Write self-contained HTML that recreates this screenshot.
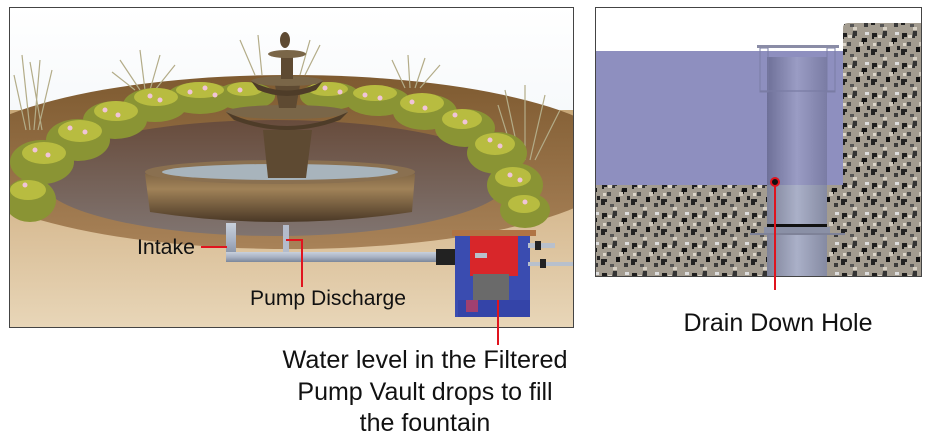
<!DOCTYPE html>
<html><head><meta charset="utf-8"><style>
html,body{margin:0;padding:0;background:#fff;width:930px;height:438px;overflow:hidden}
svg{display:block}
text{font-family:"Liberation Sans",Arial,sans-serif;fill:#111}
</style></head><body>
<svg width="930" height="438" viewBox="0 0 930 438" xmlns="http://www.w3.org/2000/svg">
<defs>
<linearGradient id="sky" x1="0" y1="0" x2="0" y2="1"><stop offset="0" stop-color="#ffffff"/><stop offset="1" stop-color="#e4ecf2"/></linearGradient>
<linearGradient id="gnd" x1="0" y1="0" x2="0" y2="1"><stop offset="0" stop-color="#c8a878"/><stop offset="0.5" stop-color="#d8bc94"/><stop offset="1" stop-color="#e8d6b8"/></linearGradient>
<linearGradient id="dirt" x1="0" y1="0" x2="0" y2="1"><stop offset="0" stop-color="#7e5a30"/><stop offset="1" stop-color="#a88258"/></linearGradient>
<linearGradient id="pond" x1="0" y1="0" x2="0" y2="1"><stop offset="0" stop-color="#684c3c"/><stop offset="1" stop-color="#807470"/></linearGradient>
<linearGradient id="stone" x1="0" y1="0" x2="0" y2="1"><stop offset="0" stop-color="#6a5238"/><stop offset="0.45" stop-color="#a08258"/><stop offset="1" stop-color="#4a3826"/></linearGradient>
<linearGradient id="pipeH" x1="0" y1="0" x2="0" y2="1"><stop offset="0" stop-color="#c8d0dc"/><stop offset="0.5" stop-color="#a8b2c4"/><stop offset="1" stop-color="#7c879a"/></linearGradient>
<linearGradient id="tube" x1="0" y1="0" x2="1" y2="0"><stop offset="0" stop-color="#6e7098"/><stop offset="0.5" stop-color="#9a9cc4"/><stop offset="1" stop-color="#7a7ca4"/></linearGradient>
<linearGradient id="tube2" x1="0" y1="0" x2="1" y2="0"><stop offset="0" stop-color="#7e8298"/><stop offset="0.5" stop-color="#aab0c8"/><stop offset="1" stop-color="#858aa2"/></linearGradient>
<pattern id="gran" width="30" height="30" patternUnits="userSpaceOnUse">
<rect width="30" height="30" fill="#a39c90"/>
<path d="M2 3h5v4h-3v2h-2z" fill="#1e1e1e"/><path d="M13 1h4v5h-2v2h-3z" fill="#333"/>
<path d="M22 8h5v4h-3v2h-3z" fill="#151515"/><rect x="7" y="12" width="4" height="4" fill="#4a4a4a"/>
<path d="M1 19h6v3h-2v3h-4z" fill="#222"/><rect x="16" y="17" width="4" height="5" fill="#111"/>
<rect x="24" y="23" width="4" height="4" fill="#3a3a3a"/><rect x="10" y="24" width="4" height="3" fill="#555"/>
<rect x="8" y="5" width="4" height="3" fill="#d8d2c6"/><rect x="19" y="12" width="4" height="4" fill="#cfc8bc"/>
<rect x="3" y="13" width="3" height="3" fill="#ddd6ca"/><rect x="25" y="2" width="4" height="3" fill="#ddd"/>
<rect x="13" y="27" width="4" height="3" fill="#d6d0c4"/><rect x="27" y="16" width="3" height="4" fill="#262626"/>
</pattern>
</defs>

<!-- LEFT PANEL -->
<rect x="9.5" y="7.5" width="564" height="320" fill="url(#sky)"/>
<clipPath id="lc"><rect x="10" y="8" width="563" height="319"/></clipPath>
<g clip-path="url(#lc)">
<rect x="10" y="110" width="563" height="217" fill="url(#gnd)"/>
<ellipse cx="290" cy="162" rx="335" ry="87" fill="url(#dirt)"/>
<ellipse cx="275" cy="178" rx="235" ry="58" fill="url(#pond)"/>
<!-- grasses -->
<g stroke="#b3ac88" stroke-width="1.2" fill="none">
<path d="M30 130 L22 55 M34 130 L40 60 M38 130 L52 70 M26 130 L14 75 M42 130 L30 62"/>
<path d="M140 90 L120 60 M145 90 L140 50 M150 90 L160 55 M155 90 L175 65 M135 90 L112 72"/>
<path d="M255 75 L240 40 M262 75 L258 35 M300 75 L310 40 M305 75 L320 45"/>
<path d="M405 88 L392 60 M410 88 L408 55 M415 88 L425 58 M420 88 L440 65"/>
<path d="M520 160 L505 90 M525 160 L525 85 M530 160 L545 95 M535 160 L560 110 M515 160 L498 105"/>
</g>
<!-- shrubs -->
<g fill="#8a9434">
<ellipse cx="30" cy="200" rx="26" ry="22"/><ellipse cx="42" cy="162" rx="32" ry="22"/>
<ellipse cx="78" cy="140" rx="32" ry="21"/><ellipse cx="115" cy="120" rx="32" ry="19"/>
<ellipse cx="155" cy="105" rx="32" ry="17"/><ellipse cx="200" cy="98" rx="34" ry="16"/>
<ellipse cx="245" cy="96" rx="30" ry="14"/><ellipse cx="330" cy="96" rx="30" ry="14"/>
<ellipse cx="378" cy="101" rx="32" ry="15"/><ellipse cx="425" cy="112" rx="32" ry="18"/>
<ellipse cx="465" cy="128" rx="30" ry="19"/><ellipse cx="497" cy="153" rx="30" ry="21"/>
<ellipse cx="515" cy="185" rx="28" ry="22"/><ellipse cx="525" cy="210" rx="25" ry="18"/>
</g>
<g fill="#b8bc40">
<ellipse cx="28" cy="190" rx="18" ry="10"/><ellipse cx="44" cy="153" rx="22" ry="11"/>
<ellipse cx="80" cy="131" rx="22" ry="11"/><ellipse cx="116" cy="111" rx="22" ry="10"/>
<ellipse cx="156" cy="97" rx="22" ry="9"/><ellipse cx="200" cy="90" rx="24" ry="8"/>
<ellipse cx="245" cy="89" rx="18" ry="7"/><ellipse cx="328" cy="89" rx="20" ry="7"/>
<ellipse cx="375" cy="93" rx="22" ry="8"/><ellipse cx="422" cy="103" rx="22" ry="10"/>
<ellipse cx="462" cy="119" rx="20" ry="10"/><ellipse cx="495" cy="144" rx="20" ry="11"/>
<ellipse cx="513" cy="177" rx="18" ry="10"/><ellipse cx="524" cy="204" rx="16" ry="9"/>
</g>
<g fill="#f0c4d8">
<circle cx="25" cy="185" r="2.5"/><circle cx="35" cy="150" r="2.5"/><circle cx="48" cy="155" r="2.5"/>
<circle cx="70" cy="128" r="2.5"/><circle cx="85" cy="132" r="2.5"/><circle cx="105" cy="110" r="2.5"/>
<circle cx="118" cy="115" r="2.5"/><circle cx="150" cy="96" r="2.5"/><circle cx="160" cy="100" r="2.5"/>
<circle cx="190" cy="92" r="2.5"/><circle cx="205" cy="88" r="2.5"/><circle cx="215" cy="95" r="2.5"/>
<circle cx="240" cy="90" r="2.5"/><circle cx="325" cy="88" r="2.5"/><circle cx="340" cy="92" r="2.5"/>
<circle cx="365" cy="95" r="2.5"/><circle cx="380" cy="98" r="2.5"/><circle cx="412" cy="102" r="2.5"/>
<circle cx="425" cy="108" r="2.5"/><circle cx="455" cy="115" r="2.5"/><circle cx="465" cy="122" r="2.5"/>
<circle cx="490" cy="140" r="2.5"/><circle cx="500" cy="146" r="2.5"/><circle cx="510" cy="175" r="2.5"/>
<circle cx="520" cy="180" r="2.5"/><circle cx="525" cy="202" r="2.5"/>
</g>
<!-- fountain -->
<g>
<path d="M145 174 Q280 150 415 174 L412 212 Q280 232 150 212 Z" fill="url(#stone)"/>
<ellipse cx="280" cy="172" rx="135" ry="12" fill="#8a7050"/>
<ellipse cx="280" cy="172" rx="118" ry="8" fill="#a8b4bc"/>
<path d="M263 130 L312 130 L306 178 L268 178 Z" fill="#5e4a32"/>
<ellipse cx="287" cy="112" rx="61" ry="7" fill="#7a6648"/>
<path d="M226 112 Q287 140 348 112 L340 120 Q287 140 234 120 Z" fill="#4e3c28"/>
<path d="M275 85 L300 85 L296 108 L279 108 Z" fill="#5e4a32"/>
<ellipse cx="287" cy="81" rx="36" ry="5" fill="#7a6648"/>
<path d="M251 81 Q287 100 323 81 L316 90 Q287 102 258 90 Z" fill="#4e3c28"/>
<rect x="281" y="55" width="12" height="24" fill="#5e4a32"/>
<ellipse cx="287" cy="54" rx="19" ry="4" fill="#7a6648"/>
<ellipse cx="285" cy="40" rx="5" ry="8" fill="#5e4a32"/>
</g>
<!-- pipes -->
<rect x="226" y="223" width="10" height="36" fill="url(#pipeH)"/>
<rect x="283" y="225" width="6" height="30" fill="#b4bccb"/>
<rect x="226" y="252" width="218" height="10" fill="url(#pipeH)"/>
<rect x="436" y="249" width="20" height="16" fill="#222"/>
<!-- vault -->
<rect x="455" y="235" width="75" height="82" fill="#3a4cb0"/>
<rect x="452" y="230" width="84" height="6" fill="#b07444"/>
<rect x="470" y="236" width="48" height="40" fill="#d8262a"/>
<rect x="473" y="274" width="36" height="26" fill="#6a6a6a"/>
<rect x="458" y="300" width="72" height="17" fill="#3444a8"/>
<rect x="466" y="300" width="12" height="12" fill="#a04070"/>
<rect x="475" y="253" width="12" height="5" fill="#b8c0cc"/>
<rect x="528" y="243" width="27" height="5" fill="#b8c0cc"/>
<rect x="528" y="262" width="45" height="4" fill="#b8c0cc"/>
<rect x="535" y="241" width="6" height="9" fill="#222"/><rect x="540" y="259" width="6" height="9" fill="#222"/>
</g>
<rect x="9.5" y="7.5" width="564" height="320" fill="none" stroke="#444" stroke-width="1"/>

<!-- red leaders left -->
<g stroke="#e0141e" stroke-width="2" fill="none">
<path d="M201 247 H227"/>
<path d="M286 240 H302 V287"/>
<path d="M498 300 V345"/>
</g>
<text x="137" y="254" font-size="21" textLength="58" lengthAdjust="spacingAndGlyphs">Intake</text>
<text x="250" y="305" font-size="21" textLength="156" lengthAdjust="spacingAndGlyphs">Pump Discharge</text>
<g font-size="25" text-anchor="middle">
<text x="425" y="368" textLength="285" lengthAdjust="spacingAndGlyphs">Water level in the Filtered</text>
<text x="425" y="400">Pump Vault drops to fill</text>
<text x="425" y="431">the fountain</text>
</g>

<!-- RIGHT PANEL -->
<rect x="595" y="7" width="326" height="269" fill="#fff"/>
<rect x="595" y="51" width="248" height="134" fill="#8e8fbf"/>
<path d="M843 276 V28 Q843 23 848 23 H921 V276 Z" fill="url(#gran)"/>
<rect x="595" y="185" width="248" height="91" fill="url(#gran)"/>
<rect x="767" y="185" width="60" height="91" fill="url(#tube2)"/>
<rect x="767" y="57" width="60" height="128" fill="url(#tube)"/>
<rect x="760" y="48" width="8" height="44" fill="none" stroke="#7a7ca4" stroke-width="1"/>
<rect x="827" y="48" width="8" height="44" fill="none" stroke="#7a7ca4" stroke-width="1"/>
<line x1="760" y1="91" x2="835" y2="91" stroke="#7a7ca4" stroke-width="1.2"/>
<rect x="757" y="45" width="82" height="3" fill="#8a8ca6"/>
<rect x="767" y="224" width="60" height="3" fill="#111"/>
<rect x="764" y="227" width="66" height="6" fill="#8a90a6"/>
<line x1="750" y1="234" x2="845" y2="234" stroke="#7e8298" stroke-width="2"/>
<rect x="595.5" y="7.5" width="326" height="269" fill="none" stroke="#444" stroke-width="1"/>
<line x1="775" y1="182" x2="775" y2="290" stroke="#e0141e" stroke-width="2"/>
<circle cx="775" cy="182" r="4" fill="#111" stroke="#e0141e" stroke-width="2"/>
<text x="778" y="331" font-size="25" text-anchor="middle" textLength="189" lengthAdjust="spacingAndGlyphs">Drain Down Hole</text>
</svg>
</body></html>
